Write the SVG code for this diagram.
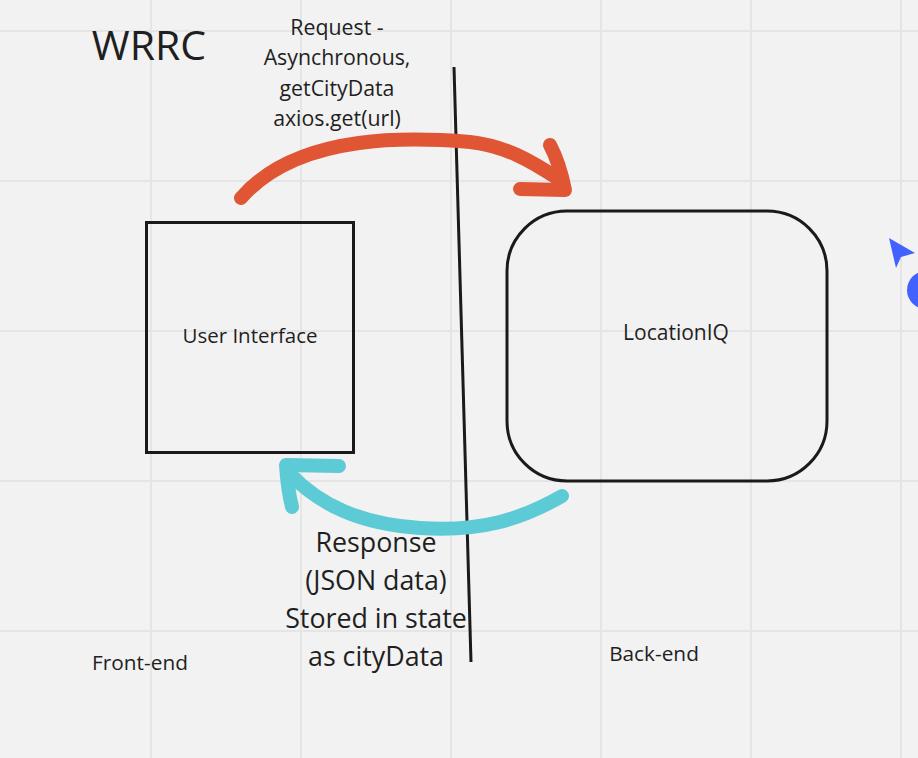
<svg xmlns="http://www.w3.org/2000/svg" width="918" height="758" viewBox="0 0 918 758">
<style>
.t{font-family:"Open Sans","Noto Sans","Liberation Sans",sans-serif;fill:#1f1f1f;text-anchor:middle}
.grid{stroke:#e5e5e5;stroke-width:2}
.box{fill:none;stroke:#1a1a1a;stroke-width:3}
.red{fill:none;stroke:#e05534;stroke-width:14;stroke-linecap:round;stroke-linejoin:round}
.cyan{fill:none;stroke:#5ccbd5;stroke-width:14;stroke-linecap:round;stroke-linejoin:round}
</style>
<rect width="918" height="758" fill="#f2f2f2"/>
<g id="grid">
<line class="grid" x1="151" y1="0" x2="151" y2="758"/>
<line class="grid" x1="301" y1="0" x2="301" y2="758"/>
<line class="grid" x1="451" y1="0" x2="451" y2="758"/>
<line class="grid" x1="601" y1="0" x2="601" y2="758"/>
<line class="grid" x1="751" y1="0" x2="751" y2="758"/>
<line class="grid" x1="901" y1="0" x2="901" y2="758"/>
<line class="grid" x1="0" y1="31" x2="918" y2="31"/>
<line class="grid" x1="0" y1="181" x2="918" y2="181"/>
<line class="grid" x1="0" y1="331" x2="918" y2="331"/>
<line class="grid" x1="0" y1="481" x2="918" y2="481"/>
<line class="grid" x1="0" y1="631" x2="918" y2="631"/>
</g>
<text class="t" x="149" y="60" font-size="41">WRRC</text>
<line x1="454" y1="67" x2="471" y2="662" stroke="#1a1a1a" stroke-width="3"/>
<g id="user-interface">
<rect class="box" x="146.5" y="222.5" width="207" height="230"/>
<text class="t" x="250" y="343" font-size="20.5">User Interface</text>
</g>
<g id="locationiq">
<rect class="box" x="507" y="211" width="320" height="270" rx="60"/>
<text class="t" x="676" y="340" font-size="21">LocationIQ</text>
</g>
<g id="connectors">
<path class="red" d="M241 198 C300 130 420 138 470 142 C505 146 530 160 560 180"/>
<path class="red" d="M550 145 C558 160 562 175 565 190 L520 189"/>
<path class="cyan" d="M562 496 C520 520 480 532 420 528 C360 524 320 505 290 474"/>
<path class="cyan" d="M339 466 L286 465 C287 480 289 495 292 507"/>
</g>
<g id="request-label">
<text class="t" x="337" y="35" font-size="21.3">Request -</text>
<text class="t" x="337" y="65" font-size="21.3">Asynchronous,</text>
<text class="t" x="337" y="96" font-size="21.3">getCityData</text>
<text class="t" x="337" y="126" font-size="21.3">axios.get(url)</text>
</g>
<g id="response-label">
<text class="t" x="376" y="552" font-size="26.8">Response</text>
<text class="t" x="376" y="590" font-size="26.8">(JSON data)</text>
<text class="t" x="376" y="628" font-size="26.8">Stored in state</text>
<text class="t" x="376" y="666" font-size="26.8">as cityData</text>
</g>
<text class="t" x="140" y="670" font-size="20.8">Front-end</text>
<text class="t" x="654" y="661" font-size="20.8">Back-end</text>
<g id="cursor" fill="#4262ff">
<polygon points="889,238 915,253 901,257 896,268"/>
<circle cx="926" cy="290" r="19"/>
</g>
</svg>
